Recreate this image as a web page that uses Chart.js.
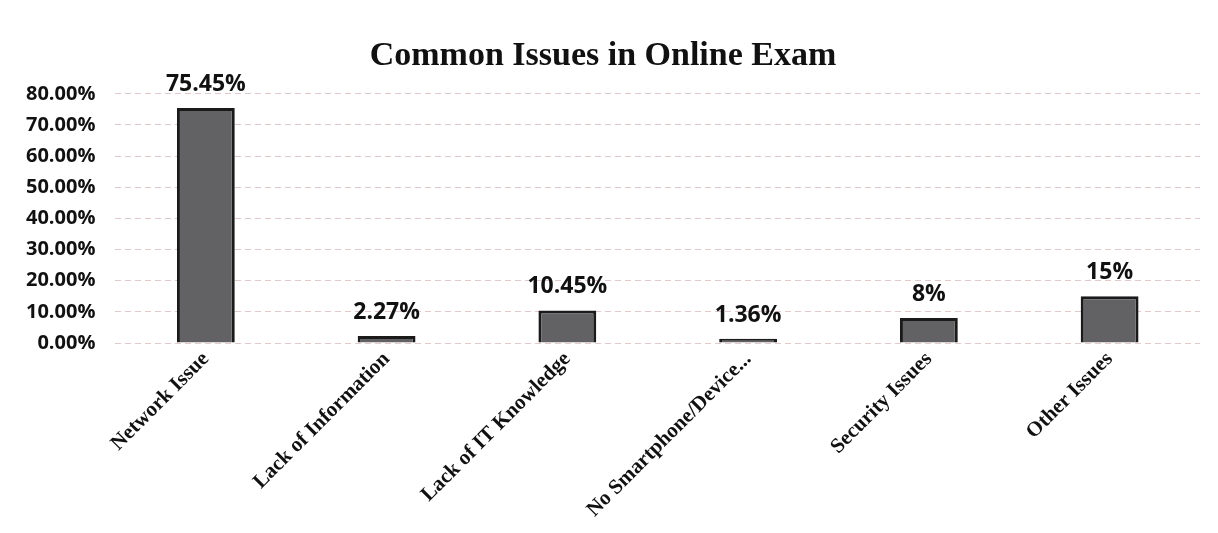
<!DOCTYPE html>
<html>
<head>
<meta charset="utf-8">
<script src="https://cdn.jsdelivr.net/npm/chart.js@4"></script>
<style>
  html, body { margin: 0; padding: 0; background: #ffffff; }
  #wrap { width: 1218px; height: 533px; }
</style>
</head>
<body>
<div id="wrap"><canvas id="issuesChart" width="1218" height="533"></canvas></div>
<script>
// data
const categories = ['Network Issue', 'Lack of Information', 'Lack of IT Knowledge', 'No Smartphone/Device...', 'Security Issues', 'Other Issues'];
const percentages = [75.45, 2.27, 10.45, 1.36, 8, 15];
const valueLabels = ['75.45%', '2.27%', '10.45%', '1.36%', '8%', '15%'];
const yTicks = [0, 10, 20, 30, 40, 50, 60, 70, 80];

// draws the value above each bar
const barLabels = {
    id: 'barLabels',
    afterDatasetsDraw(chart) {
        const c = chart.ctx;
        const meta = chart.getDatasetMeta(0);
        c.save();
        c.font = 'bold 23px "Open Sans"';
        c.fillStyle = '#111';
        c.textAlign = 'center';
        c.textBaseline = 'bottom';
        meta.data.forEach((bar, i) => {
            c.fillText(valueLabels[i], bar.x, bar.y - 12);
        });
        c.restore();
    }
};

const ctx = document.getElementById('issuesChart').getContext('2d');
const issuesChart = new Chart(ctx, {
    type: 'bar',
    data: {
        labels: categories,
        datasets: [{
            label: 'Common Issues',
            data: percentages,
            backgroundColor: '#626265',
            borderColor: '#1a1a1a',
            borderWidth: 3,
            barPercentage: 0.32,
            categoryPercentage: 1
        }]
    },
    options: {
        responsive: false,
        animation: false,
        layout: { padding: { left: 6, right: 18, bottom: 0 } },
        plugins: {
            legend: { display: false },
            tooltip: { enabled: false },
            title: {
                display: true,
                text: 'Common Issues in Online Exam',
                color: '#111',
                font: { family: '"Liberation Serif"', size: 34, weight: 'bold' },
                padding: { top: 36, bottom: 17 }
            }
        },
        scales: {
            x: {
                grid: { display: false },
                border: { display: false },
                afterFit: scale => { scale.height = 190; },
                ticks: {
                    color: '#111',
                    minRotation: 45,
                    maxRotation: 45,
                    padding: -4,
                    font: { family: '"Liberation Serif"', size: 21, weight: 'bold' }
                }
            },
            y: {
                min: 0,
                max: 80,
                afterBuildTicks: axis => { axis.ticks = yTicks.map(v => ({ value: v })); },
                border: { display: false, dash: [6, 4] },
                grid: { color: '#e2c9c9', lineWidth: 1, drawTicks: false },
                ticks: {
                    color: '#111',
                    padding: 20,
                    font: { family: '"Open Sans"', size: 20, weight: 'bold' },
                    callback: v => v.toFixed(2) + '%'
                }
            }
        }
    },
    plugins: [barLabels]
});
</script>
</body>
</html>
